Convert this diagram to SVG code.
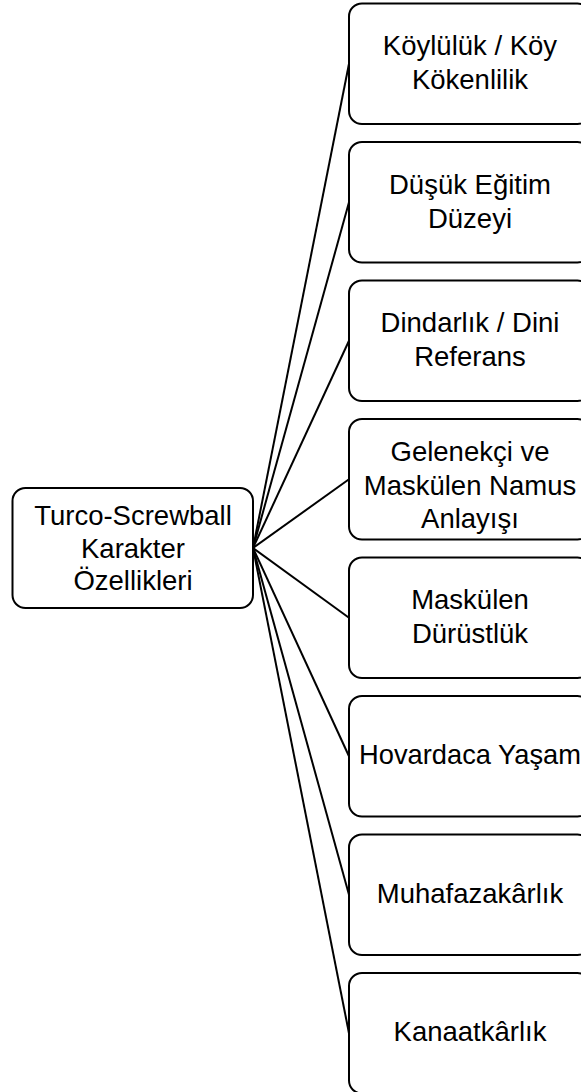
<svg xmlns="http://www.w3.org/2000/svg" width="581" height="1092" viewBox="0 0 581 1092">
<style>
.box{fill:#fff;stroke:#000;stroke-width:2}
.t{font-family:"Liberation Sans",Arial,sans-serif;font-size:27.5px;fill:#000;text-anchor:middle}
.c{stroke:#000;stroke-width:2;fill:none}
</style>
<rect width="581" height="1092" fill="#fff"/>
<g id="connectors">
<line class="c" x1="253" y1="548" x2="349" y2="63.75"/>
<line class="c" x1="253" y1="548" x2="349" y2="202.25"/>
<line class="c" x1="253" y1="548" x2="349" y2="340.75"/>
<line class="c" x1="253" y1="548" x2="349" y2="479.25"/>
<line class="c" x1="253" y1="548" x2="349" y2="617.75"/>
<line class="c" x1="253" y1="548" x2="349" y2="756.25"/>
<line class="c" x1="253" y1="548" x2="349" y2="894.75"/>
<line class="c" x1="253" y1="548" x2="349" y2="1033.25"/>
</g>
<g id="root">
<rect class="box" x="12.5" y="488" width="240.5" height="120" rx="13"/>
<text class="t"><tspan x="133" y="525">Turco-Screwball</tspan><tspan x="133" y="557.5">Karakter</tspan><tspan x="133" y="590">Özellikleri</tspan></text>
</g>
<g id="n1">
<rect class="box" x="349" y="3.5" width="241.5" height="120.5" rx="13"/>
<text class="t"><tspan x="470" y="55">Köylülük / Köy</tspan><tspan x="470" y="89">Kökenlilik</tspan></text>
</g>
<g id="n2">
<rect class="box" x="349" y="142" width="241.5" height="120.5" rx="13"/>
<text class="t"><tspan x="470" y="194">Düşük Eğitim</tspan><tspan x="470" y="228">Düzeyi</tspan></text>
</g>
<g id="n3">
<rect class="box" x="349" y="280.5" width="241.5" height="120.5" rx="13"/>
<text class="t"><tspan x="470" y="332">Dindarlık / Dini</tspan><tspan x="470" y="366">Referans</tspan></text>
</g>
<g id="n4">
<rect class="box" x="349" y="419" width="241.5" height="120.5" rx="13"/>
<text class="t"><tspan x="470" y="461">Gelenekçi ve</tspan><tspan x="470" y="495">Maskülen Namus</tspan><tspan x="470" y="528">Anlayışı</tspan></text>
</g>
<g id="n5">
<rect class="box" x="349" y="557.5" width="241.5" height="120.5" rx="13"/>
<text class="t"><tspan x="470" y="609">Maskülen</tspan><tspan x="470" y="643">Dürüstlük</tspan></text>
</g>
<g id="n6">
<rect class="box" x="349" y="696" width="241.5" height="120.5" rx="13"/>
<text class="t"><tspan x="470" y="764" textLength="222" lengthAdjust="spacingAndGlyphs">Hovardaca Yaşam</tspan></text>
</g>
<g id="n7">
<rect class="box" x="349" y="834.5" width="241.5" height="120.5" rx="13"/>
<text class="t"><tspan x="470" y="903">Muhafazakârlık</tspan></text>
</g>
<g id="n8">
<rect class="box" x="349" y="973" width="241.5" height="120.5" rx="13"/>
<text class="t"><tspan x="470" y="1041">Kanaatkârlık</tspan></text>
</g>
</svg>
